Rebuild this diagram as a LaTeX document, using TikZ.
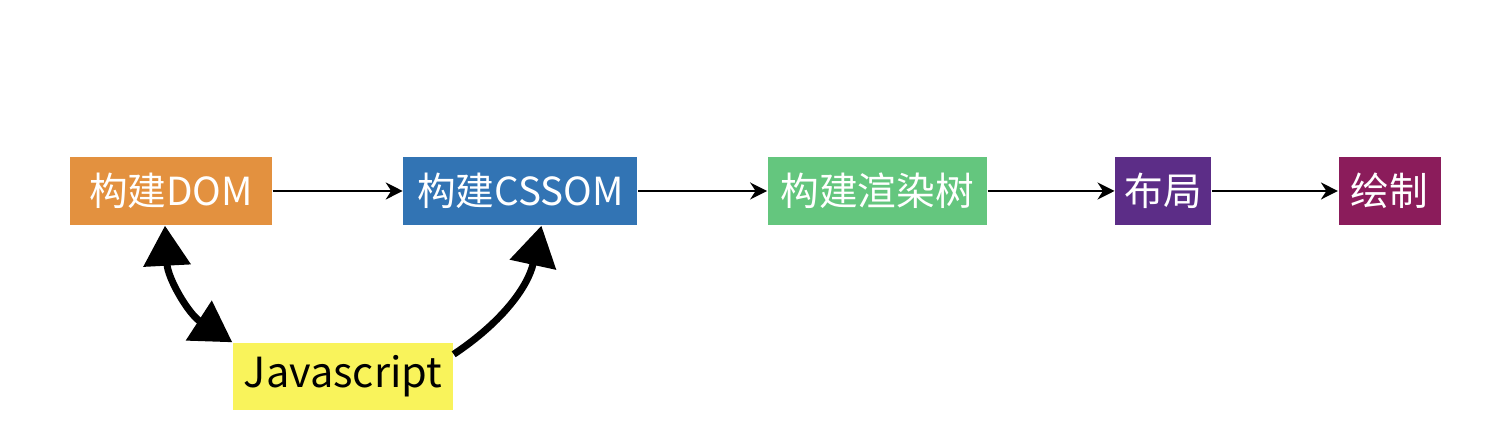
\documentclass[tikz,border=0pt]{standalone}
\usepackage{fontspec}
\setmainfont{Noto Sans CJK SC}
\usepackage{tikz}
\usetikzlibrary{arrows.meta, positioning}
\definecolor{domorange}{HTML}{E3913F}
\definecolor{cssomblue}{HTML}{3274B4}
\definecolor{rendergreen}{HTML}{64C67E}
\definecolor{layoutpurple}{HTML}{5C2D87}
\definecolor{paintmaroon}{HTML}{8B1C5B}
\definecolor{jsyellow}{HTML}{F9F35B}

\begin{document}
\begin{tikzpicture}[
    every node/.style={
    align=center,
    minimum height=6.8mm,
    inner sep=0pt,
    text=white,
    font=\fontsize{11}{13}\selectfont},
    >={Stealth[length=1.7mm, width=1.7mm]}]
    \useasboundingbox (0,0) rectangle (15,4.48);
    \node[fill=domorange, minimum width=20.2mm] (dom1) at (1.71,2.57) {构建DOM};
    \node[fill=cssomblue, minimum width=23.4mm, right=1.3cm of dom1] (css1) {构建CSSOM};
    \node[fill=rendergreen, minimum width=21.9mm, right=1.29cm of css1] (rt1) {构建渲染树};
    \node[fill=layoutpurple, minimum width=9.6mm, right=1.27cm of rt1] (lay1) {布局};
    \node[fill=paintmaroon, minimum width=10.2mm, right=1.26cm of lay1] (pt1) {绘制};
    \node[fill=jsyellow, text=black, minimum width=22mm, minimum height=6.7mm,
        font=\fontsize{11.8}{14}\selectfont] (js1) at (3.43,0.715) {Javascript};
    \draw[->, line width=0.65pt] (dom1) -- (css1);
    \draw[->, line width=0.65pt] (css1) -- (rt1);
    \draw[->, line width=0.65pt] (rt1) -- (lay1);
    \draw[->, line width=0.65pt] (lay1) -- (pt1);
    \begin{scope}[line width=2pt, >={Triangle[length=4mm, width=4.6mm]}]
        \draw[<->] ([xshift=-0.6mm]dom1.south) to[bend right=27] (js1.north west);
        \draw[->] ([yshift=-1.2mm]js1.north east) to[bend right=22] ([xshift=2.1mm]css1.south);
    \end{scope}
\end{tikzpicture}
\end{document}
